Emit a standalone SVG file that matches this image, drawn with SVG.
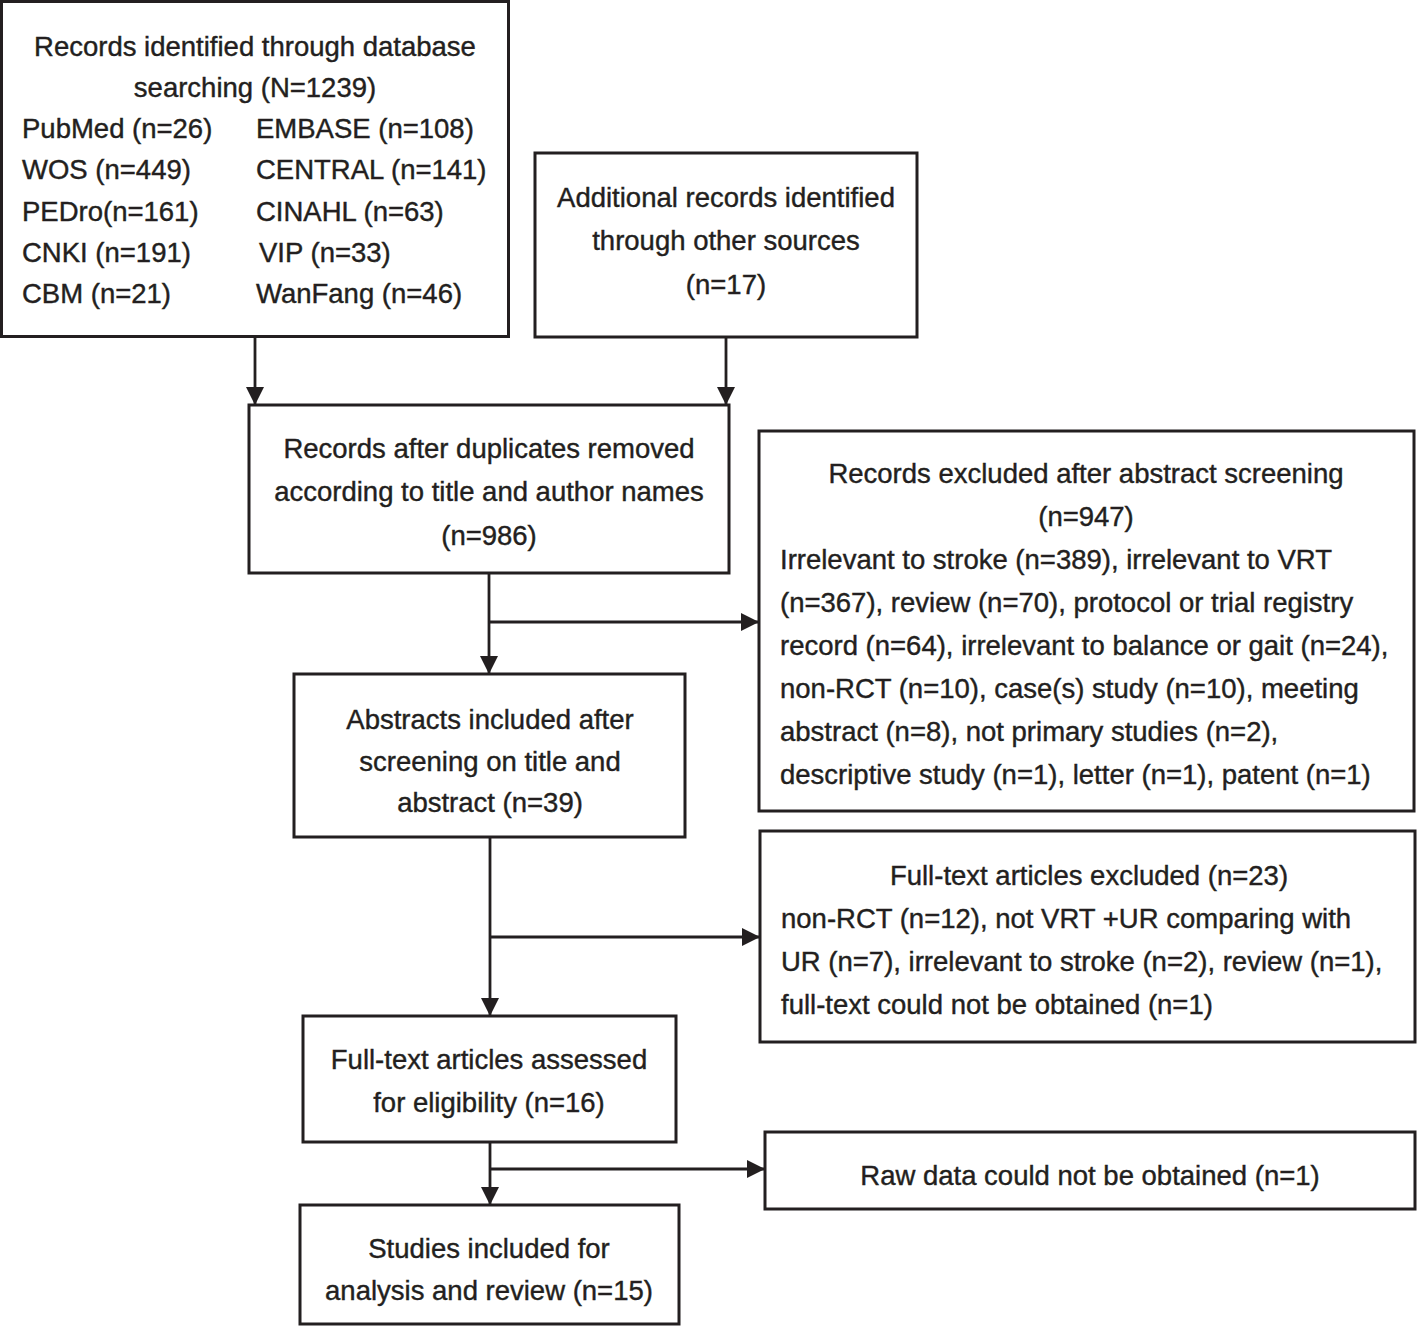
<svg xmlns="http://www.w3.org/2000/svg" width="1417" height="1326" viewBox="0 0 1417 1326">
<style>
.box{fill:#fff;stroke:#231f20;stroke-width:3}
.t{font-family:"Liberation Sans",Arial,sans-serif;font-size:27.5px;fill:#231f20;stroke:#231f20;stroke-width:0.4}
.c{text-anchor:middle}
.ln{stroke:#231f20;stroke-width:2.8;fill:none}
</style>
<defs>
<marker id="ah" markerUnits="userSpaceOnUse" markerWidth="20" markerHeight="20" refX="18" refY="9" orient="auto">
<path d="M0,0 L18,9 L0,18 z" fill="#231f20"/>
</marker>
</defs>
<rect width="1417" height="1326" fill="#fff"/>
<g id="connectors">
<line class="ln" x1="255" y1="337" x2="255" y2="405" marker-end="url(#ah)"/>
<line class="ln" x1="726" y1="337" x2="726" y2="405" marker-end="url(#ah)"/>
<line class="ln" x1="489" y1="573" x2="489" y2="674" marker-end="url(#ah)"/>
<line class="ln" x1="489" y1="622" x2="759" y2="622" marker-end="url(#ah)"/>
<line class="ln" x1="490" y1="837" x2="490" y2="1016" marker-end="url(#ah)"/>
<line class="ln" x1="490" y1="937" x2="760" y2="937" marker-end="url(#ah)"/>
<line class="ln" x1="490" y1="1142" x2="490" y2="1205" marker-end="url(#ah)"/>
<line class="ln" x1="490" y1="1169" x2="765" y2="1169" marker-end="url(#ah)"/>
</g>
<g id="n1">
<rect class="box" x="1.5" y="1.5" width="507" height="335"/>
<text class="t c" x="255" y="56">Records identified through database</text>
<text class="t c" x="255" y="97">searching (N=1239)</text>
<text class="t" x="22" y="138">PubMed (n=26)</text>
<text class="t" x="256" y="138">EMBASE (n=108)</text>
<text class="t" x="22" y="179">WOS (n=449)</text>
<text class="t" x="256" y="179">CENTRAL (n=141)</text>
<text class="t" x="22" y="221">PEDro(n=161)</text>
<text class="t" x="256" y="221">CINAHL (n=63)</text>
<text class="t" x="22" y="262">CNKI (n=191)</text>
<text class="t" x="259" y="262">VIP (n=33)</text>
<text class="t" x="22" y="303">CBM (n=21)</text>
<text class="t" x="256" y="303">WanFang (n=46)</text>
</g>
<g id="n2">
<rect class="box" x="535" y="153" width="382" height="184"/>
<text class="t c" x="726" y="207">Additional records identified</text>
<text class="t c" x="726" y="250">through other sources</text>
<text class="t c" x="726" y="294">(n=17)</text>
</g>
<g id="n3">
<rect class="box" x="249" y="405" width="480" height="168"/>
<text class="t c" x="489" y="458">Records after duplicates removed</text>
<text class="t c" x="489" y="501">according to title and author names</text>
<text class="t c" x="489" y="545">(n=986)</text>
</g>
<g id="n4">
<rect class="box" x="759" y="431" width="655" height="380"/>
<text class="t c" x="1086" y="483">Records excluded after abstract screening</text>
<text class="t c" x="1086" y="526">(n=947)</text>
<text class="t" x="780" y="569">Irrelevant to stroke (n=389), irrelevant to VRT</text>
<text class="t" x="780" y="612">(n=367), review (n=70), protocol or trial registry</text>
<text class="t" x="780" y="655">record (n=64), irrelevant to balance or gait (n=24),</text>
<text class="t" x="780" y="698">non-RCT (n=10), case(s) study (n=10), meeting</text>
<text class="t" x="780" y="741">abstract (n=8), not primary studies (n=2),</text>
<text class="t" x="780" y="784">descriptive study (n=1), letter (n=1), patent (n=1)</text>
</g>
<g id="n5">
<rect class="box" x="294" y="674" width="391" height="163"/>
<text class="t c" x="490" y="729">Abstracts included after</text>
<text class="t c" x="490" y="771">screening on title and</text>
<text class="t c" x="490" y="812">abstract (n=39)</text>
</g>
<g id="n6">
<rect class="box" x="760" y="831" width="655" height="211"/>
<text class="t c" x="1089" y="885">Full-text articles excluded (n=23)</text>
<text class="t" x="781" y="928">non-RCT (n=12), not VRT +UR comparing with</text>
<text class="t" x="781" y="971">UR (n=7), irrelevant to stroke (n=2), review (n=1),</text>
<text class="t" x="781" y="1014">full-text could not be obtained (n=1)</text>
</g>
<g id="n7">
<rect class="box" x="303" y="1016" width="373" height="126"/>
<text class="t c" x="489" y="1069">Full-text articles assessed</text>
<text class="t c" x="489" y="1112">for eligibility (n=16)</text>
</g>
<g id="n8">
<rect class="box" x="765" y="1132" width="650" height="77"/>
<text class="t c" x="1090" y="1185">Raw data could not be obtained (n=1)</text>
</g>
<g id="n9">
<rect class="box" x="300" y="1205" width="379" height="119"/>
<text class="t c" x="489" y="1258">Studies included for</text>
<text class="t c" x="489" y="1300">analysis and review (n=15)</text>
</g>
</svg>
